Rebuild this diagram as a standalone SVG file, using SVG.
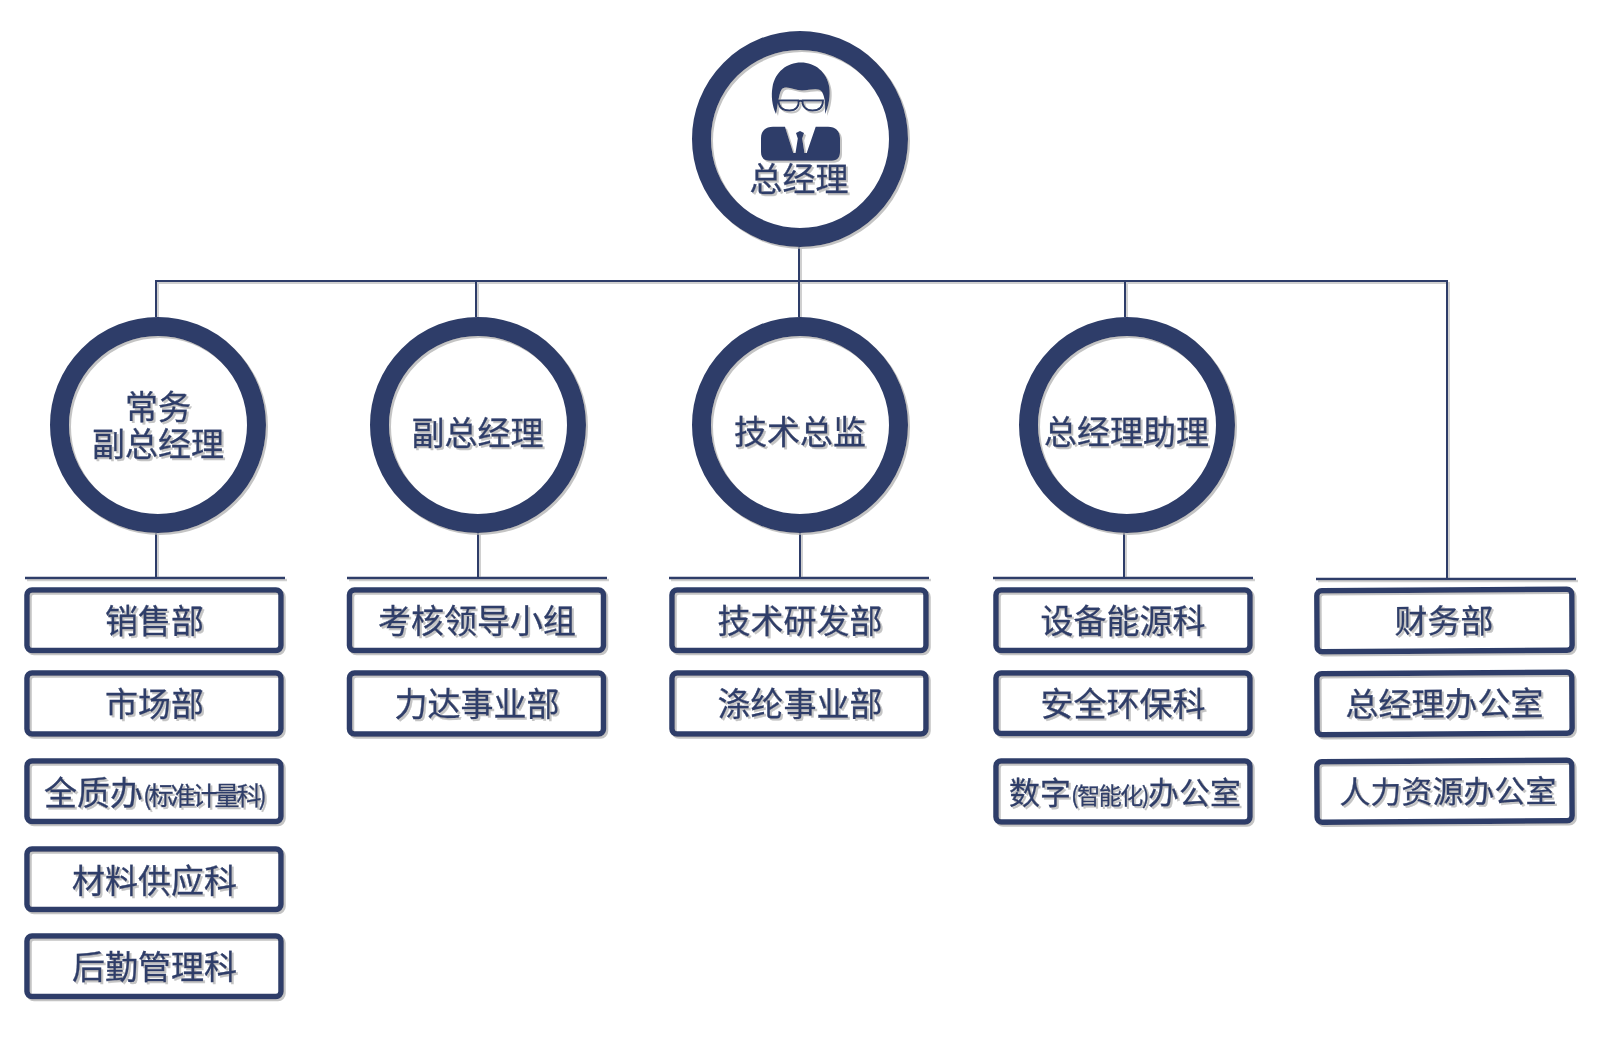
<svg xmlns="http://www.w3.org/2000/svg" width="1600" height="1057" viewBox="0 0 1600 1057">
<defs>
<filter id="sh" x="-10%" y="-10%" width="120%" height="120%" filterUnits="objectBoundingBox"><feDropShadow dx="2" dy="2" stdDeviation="0.6" flood-color="#b0b0b0" flood-opacity="0.75"/></filter>
<filter id="lsh" x="0" y="0" width="1600" height="1057" filterUnits="userSpaceOnUse"><feDropShadow dx="2" dy="2" stdDeviation="0.6" flood-color="#b0b0b0" flood-opacity="0.6"/></filter>
</defs>
<style>
.ring{fill:none;stroke:#2f3e69;stroke-width:19}
.box{fill:none;stroke:#2f3e69;stroke-width:5.5}
.ln{fill:none;stroke:#2f3e69;stroke-width:2}
.hl{fill:none;stroke:#2f3e69;stroke-width:2.5}
.t{font-family:"Noto Sans CJK SC","Liberation Sans",sans-serif;font-size:33px;fill:#2f3e69;stroke:#2f3e69;stroke-width:0.35;text-anchor:middle}
.s{font-size:25px;letter-spacing:-3px}
.node{filter:url(#sh)}
</style>
<rect width="1600" height="1057" fill="#fff"/>
<g id="connectors" filter="url(#lsh)">
<path class="ln" d="M799 247V281M156 317V281H1447V578M476 281V317M799 281V317M1125 281V317M156 533V578M478 533V578M800 533V578M1124 533V578"/>
<path class="hl" d="M25 578H285M347 578H607M669 578H929M993 578H1253M1316 579H1576"/>
</g>
<g id="ceo" class="node">
<circle class="ring" cx="800" cy="139" r="98.500"/>
<g id="ceo-icon">
<path fill="#2f3e69" d="M776 114C772 106 771 95 772.500 87C775 72 787 62.500 801 62.500C815 62.500 827 72 829.300 87C830.500 95 829 106 825 114C825.500 105 825 97 822 92C818.500 87 810 90.500 802 90.500C795 90.500 787 85.500 782.500 88.500C779 91 778 105 776 114Z"/>
<path fill="none" stroke="#2f3e69" stroke-width="1.900" d="M778.500 100.500H798.500C799.500 106 796 110.500 789.500 110.500C782.500 110.500 778.500 107 778.500 100.500ZM802.500 100.500H823C823 107 819.500 110.500 812.500 110.500C806 110.500 802 106 802.500 100.500ZM798.500 101.500Q800.500 100 802.500 101.500"/>
<path fill="#2f3e69" d="M773 126.700H785L793.300 153H806.700L815.700 126.700H828C835.500 126.700 840 131 840 138V152C840 157.500 837 160.700 832 160.700H769C764 160.700 761 157.500 761 152V138C761 131 765.500 126.700 773 126.700Z"/>
<path fill="#2f3e69" d="M796 133L800 131L804 133L802.200 138.500L804.500 153H795.500L797.800 138.500Z"/>
</g>
<text class="t" x="799" y="191">总经理</text>
</g>
<g id="vp-exec" class="node"><circle class="ring" cx="158" cy="425" r="98.500"/><text class="t"><tspan x="158" y="418.500">常务</tspan><tspan x="158" y="455.500">副总经理</tspan></text></g>
<g id="vp" class="node"><circle class="ring" cx="478" cy="425" r="98.500"/><text class="t" x="477.500" y="445">副总经理</text></g>
<g id="cto" class="node"><circle class="ring" cx="800" cy="425" r="98.500"/><text class="t" x="800" y="444">技术总监</text></g>
<g id="assistant" class="node"><circle class="ring" cx="1127" cy="425" r="98.500"/><text class="t" x="1126.500" y="444">总经理助理</text></g>

<g id="sales" class="node"><rect class="box" x="27" y="590" width="254" height="60.500" rx="5"/><text class="t" x="154.500" y="633">销售部</text></g>
<g id="market" class="node"><rect class="box" x="27" y="673" width="254" height="61" rx="5"/><text class="t" x="154.500" y="715.500">市场部</text></g>
<g id="quality" class="node"><rect class="box" x="27" y="761" width="254" height="60.500" rx="5"/><text class="t" x="154" y="804.500">全质办<tspan class="s">(标准计量科)</tspan></text></g>
<g id="material" class="node"><rect class="box" x="27" y="849" width="254" height="60.500" rx="5"/><text class="t" x="154.500" y="892.500">材料供应科</text></g>
<g id="logistics" class="node"><rect class="box" x="27" y="936" width="254" height="60.500" rx="5"/><text class="t" x="154.500" y="978.500">后勤管理科</text></g>

<g id="audit" class="node"><rect class="box" x="349.500" y="590" width="254" height="60.500" rx="5"/><text class="t" x="477" y="633">考核领导小组</text></g>
<g id="lida" class="node"><rect class="box" x="349.500" y="673" width="254" height="61" rx="5"/><text class="t" x="477" y="715.500">力达事业部</text></g>

<g id="rnd" class="node"><rect class="box" x="672" y="590" width="254" height="60.500" rx="5"/><text class="t" x="800" y="633">技术研发部</text></g>
<g id="polyester" class="node"><rect class="box" x="672" y="673" width="254" height="61" rx="5"/><text class="t" x="800" y="715.500">涤纶事业部</text></g>

<g id="energy" class="node"><rect class="box" x="996" y="590" width="254" height="60.500" rx="5"/><text class="t" x="1123" y="633">设备能源科</text></g>
<g id="safety" class="node"><rect class="box" x="996" y="673" width="254" height="60.500" rx="5"/><text class="t" x="1123" y="715.500">安全环保科</text></g>
<g id="digital" class="node"><rect class="box" x="996" y="761" width="254" height="61" rx="5"/><text class="t" x="1125" y="803.500" style="font-size:31px">数字<tspan style="font-size:23px;letter-spacing:-1.5px">(智能化)</tspan>办公室</text></g>

<g id="finance" class="node"><g transform="rotate(-0.33 1445 620)"><rect class="box" x="1317" y="590" width="255" height="61" rx="5"/><text class="t" x="1444" y="633">财务部</text></g></g>
<g id="gm-office" class="node"><g transform="rotate(-0.33 1445 703)"><rect class="box" x="1317" y="673" width="255" height="61" rx="5"/><text class="t" x="1444.500" y="716">总经理办公室</text></g></g>
<g id="hr" class="node"><g transform="rotate(-0.33 1445 791)"><rect class="box" x="1317" y="761" width="255" height="60.500" rx="5"/><text class="t" x="1448" y="803" style="font-size:31px">人力资源办公室</text></g></g>
</svg>
